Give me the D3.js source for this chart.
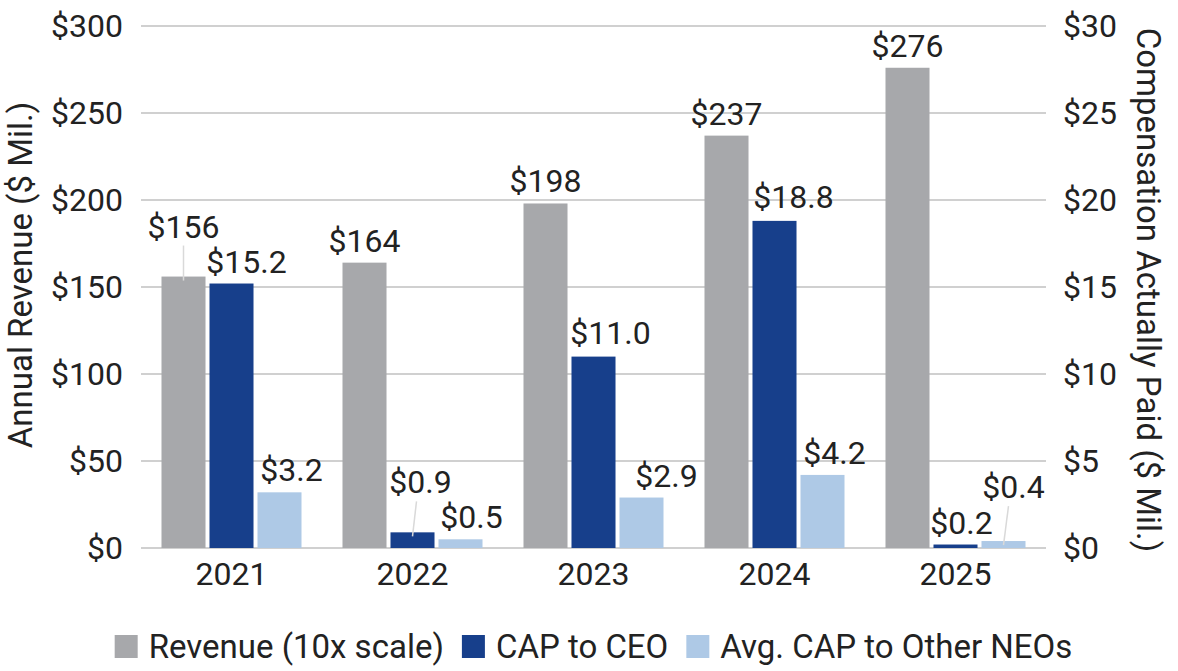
<!DOCTYPE html>
<html lang="en">
<head>
    <meta charset="UTF-8">
    <title>Revenue vs CAP</title>
    <script src="https://d3js.org/d3.v7.min.js"></script>
    <style>
        body {
            margin: 0;
            background: #fff;
        }
        text {
            font-family: Roboto, "Noto Sans", sans-serif;
            fill: #222;
        }
        .grid line {
            stroke: #d0d0d0;
            stroke-width: 2px;
        }
        .leader {
            stroke: #d9d9d9;
            stroke-width: 1.5px;
        }
    </style>
</head>
<body>
    <svg id="chart"></svg>

    <script>
        // Data
        const years = ["2021", "2022", "2023", "2024", "2025"];
        const revenue = [156, 164, 198, 237, 276];          // $ Mil. (left axis)
        const capCEO = [15.2, 0.9, 11.0, 18.8, 0.2];        // $ Mil. (right axis)
        const capNEO = [3.2, 0.5, 2.9, 4.2, 0.4];           // $ Mil. (right axis)
        const leftTicks = [0, 50, 100, 150, 200, 250, 300];
        const rightTicks = [0, 5, 10, 15, 20, 25, 30];
        const seriesNames = ["Revenue (10x scale)", "CAP to CEO", "Avg. CAP to Other NEOs"];
        const colors = ["#a7a8ab", "#173f8b", "#aec9e6"];

        // label nudges [dx, dy, leader] per series, per year (to dodge overlaps)
        const nudges = [
            [[0, -28, true], [0, 0], [0, 0], [0, 0], [0, 0]],
            [[15, 0], [8, -28, true], [17, -2], [19, -2], [6, 0]],
            [[12, 0], [11, 0], [25, 0], [12, 0], [10, -32, true]]
        ];

        const W = 1178, H = 671;
        const plotL = 141, plotR = 1046, plotT = 26, plotB = 548;

        const svg = d3.select("#chart").attr("width", W).attr("height", H);

        const x = d3.scaleBand().domain(years).range([plotL, plotR]).padding(0);
        const xs = d3.scaleBand().domain([0, 1, 2]).range([0, x.bandwidth()])
            .paddingInner(0.083).paddingOuter(0.427);
        const yL = d3.scaleLinear().domain([0, 300]).range([plotB, plotT]);
        const yR = d3.scaleLinear().domain([0, 30]).range([plotB, plotT]);

        // gridlines
        svg.append("g").attr("class", "grid")
            .selectAll("line").data(leftTicks).join("line")
            .attr("x1", plotL).attr("x2", plotR)
            .attr("y1", d => yL(d)).attr("y2", d => yL(d));

        // axes
        const axL = svg.append("g").attr("transform", `translate(${plotL},0)`)
            .call(d3.axisLeft(yL).tickValues(leftTicks).tickSize(0).tickPadding(18).tickFormat(d => "$" + d));
        const axR = svg.append("g").attr("transform", `translate(${plotR},0)`)
            .call(d3.axisRight(yR).tickValues(rightTicks).tickSize(0).tickPadding(17).tickFormat(d => "$" + d));
        const axX = svg.append("g").attr("transform", `translate(0,${plotB})`)
            .call(d3.axisBottom(x).tickSize(0).tickPadding(14));
        [axL, axR, axX].forEach(a => {
            a.select(".domain").remove();
            a.selectAll("text").style("font-size", "32px").attr("fill", "#222")
                .style("font-family", "Roboto, sans-serif");
        });

        // bars
        const series = [
            { vals: revenue, scale: yL, fmt: d3.format(".0f") },
            { vals: capCEO, scale: yR, fmt: d3.format(".1f") },
            { vals: capNEO, scale: yR, fmt: d3.format(".1f") }
        ];

        series.forEach((s, si) => {
            const g = svg.append("g");
            g.selectAll("rect").data(s.vals).join("rect")
                .attr("x", (d, i) => x(years[i]) + xs(si))
                .attr("width", xs.bandwidth())
                .attr("y", d => s.scale(d))
                .attr("height", d => plotB - s.scale(d))
                .attr("fill", colors[si]);

            s.vals.forEach((d, i) => {
                const cx = x(years[i]) + xs(si) + xs.bandwidth() / 2;
                const ty = s.scale(d);
                const n = nudges[si][i];
                const lx = cx + n[0];
                const ly = ty - 11 + n[1];
                if (n[2]) {
                    svg.append("line").attr("class", "leader")
                        .attr("x1", (lx + cx) / 2).attr("y1", ly + 8)
                        .attr("x2", cx).attr("y2", ty + 4);
                }
                svg.append("text")
                    .attr("x", lx).attr("y", ly)
                    .attr("text-anchor", "middle")
                    .style("font-size", "32px")
                    .text("$" + s.fmt(d));
            });
        });

        // axis titles
        svg.append("text")
            .attr("transform", "translate(32,275) rotate(-90)")
            .attr("text-anchor", "middle")
            .style("font-size", "33px")
            .text("Annual Revenue ($ Mil.)");
        svg.append("text")
            .attr("transform", "translate(1137,290) rotate(90)")
            .attr("text-anchor", "middle")
            .style("font-size", "33px")
            .text("Compensation Actually Paid ($ Mil.)");

        // legend
        const leg = svg.append("g");
        let cursor = 0;
        seriesNames.forEach((name, i) => {
            const item = leg.append("g").attr("transform", `translate(${cursor},0)`);
            item.append("rect").attr("x", 0).attr("y", -23).attr("width", 23).attr("height", 23)
                .attr("fill", colors[i]);
            const t = item.append("text").attr("x", 34).attr("y", 0)
                .style("font-size", "33px").text(name);
            cursor += 34 + t.node().getComputedTextLength() + 18;
        });
        const legW = cursor - 18;
        leg.attr("transform", `translate(${(plotL + plotR) / 2 - legW / 2},658)`);
    </script>
</body>
</html>
